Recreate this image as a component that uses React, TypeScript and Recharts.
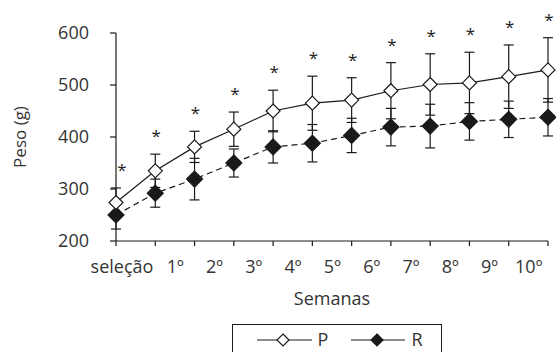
import { LineChart, Line, XAxis, YAxis, ErrorBar } from "recharts";

const weekLabels = ["seleção", "1º", "2º", "3º", "4º", "5º", "6º", "7º", "8º", "9º", "10º"];
const weekIndex = [0, 1, 2, 3, 4, 5, 6, 7, 8, 9, 10, 11];
const pesoP = [274, 335, 381, 415, 450, 465, 471, 489, 501, 504, 516, 529];
const errP = [28, 32, 30, 33, 40, 52, 43, 54, 59, 59, 61, 62];
const pesoR = [250, 292, 319, 350, 381, 388, 403, 419, 421, 430, 434, 438];
const errR = [27, 27, 40, 27, 31, 36, 33, 36, 42, 36, 35, 36];
const yTicks = [200, 300, 400, 500, 600];

const data = weekIndex.map((w, i) => ({
  semana: w,
  P: pesoP[i],
  pErr: errP[i],
  R: pesoR[i],
  rErr: errR[i],
}));

const W = 556;
const H = 352;
const MARGIN = { top: 33, right: 8, left: 0, bottom: 81 };
const PLOT_H = H - MARGIN.top - MARGIN.bottom - 30;
const PX_PER_G = PLOT_H / 400;
const INK = "#1a1a1a";
const TEXT = "#333";
const FONT = "'Open Sans', sans-serif";
const FS = 18;

function Diamond({ cx, cy, filled, r = 7 }: any) {
  if (cx == null || cy == null) return null;
  return (
    <polygon
      points={`${cx},${cy - r} ${cx + r},${cy} ${cx},${cy + r} ${cx - r},${cy}`}
      fill={filled ? INK : "#fff"}
      stroke={INK}
      strokeWidth={1.2}
    />
  );
}

function WeekTick({ x, y, payload }: any) {
  const label = weekLabels[payload.value];
  if (!label) return null;
  const dx = payload.value === 0 ? 6 : 20;
  return (
    <text x={x + dx} y={y} dy="0.71em" textAnchor="middle" fill={TEXT} fontSize={FS} fontFamily={FONT}>
      {label}
    </text>
  );
}

function Star(props: any) {
  const { x, y, index } = props;
  if (x == null || y == null) return null;
  const top = y - errP[index] * PX_PER_G - 22;
  return (
    <text key={`star-${index}`} x={x + (index === 0 ? 6 : 1)} y={top + 10} textAnchor="middle" fill="#222" fontSize={17} fontFamily={FONT}>
      *
    </text>
  );
}

function PesoLabel({ viewBox }: any) {
  const cy = viewBox.y + viewBox.height / 2;
  return (
    <text x={20} y={cy} transform={`rotate(-90 20 ${cy})`} dy="0.35em" textAnchor="middle" fill={TEXT} fontSize={FS - 1} fontFamily={FONT}>
      Peso (g)
    </text>
  );
}

export default function App() {
  return (
    <div style={{ position: "absolute", left: 0, top: 0, width: W, height: H, background: "#fff" }}>
      <LineChart width={W} height={H} data={data} margin={MARGIN}>
        <XAxis
          dataKey="semana"
          type="number"
          domain={[0, 11]}
          ticks={weekIndex}
          interval={0}
          height={30}
          tickSize={5}
          tickMargin={14}
          tick={<WeekTick />}
          axisLine={{ stroke: INK, strokeWidth: 1.2 }}
          tickLine={{ stroke: INK, strokeWidth: 1.2 }}
          label={{ value: "Semanas", position: "bottom", offset: 21, fill: TEXT, fontSize: FS, fontFamily: FONT }}
        />
        <YAxis
          width={116}
          domain={[200, 600]}
          ticks={yTicks}
          interval={0}
          tickSize={6}
          tickMargin={21}
          tick={{ fill: TEXT, fontSize: FS, fontFamily: FONT }}
          axisLine={{ stroke: INK, strokeWidth: 1.2 }}
          tickLine={{ stroke: INK, strokeWidth: 1.2 }}
          label={<PesoLabel />}
        />
        <Line
          dataKey="R"
          stroke={INK}
          strokeWidth={1.2}
          strokeDasharray="6 4"
          dot={(p: any) => <Diamond key={`r-${p.index}`} cx={p.cx} cy={p.cy} filled r={8} />}
          isAnimationActive={false}
        >
          <ErrorBar dataKey="rErr" direction="y" width={5} stroke={INK} strokeWidth={1.2} />
        </Line>
        <Line
          dataKey="P"
          stroke={INK}
          strokeWidth={1.2}
          dot={(p: any) => <Diamond key={`p-${p.index}`} cx={p.cx} cy={p.cy} r={7} />}
          label={Star}
          isAnimationActive={false}
        >
          <ErrorBar dataKey="pErr" direction="y" width={5} stroke={INK} strokeWidth={1.2} />
        </Line>
      </LineChart>
      <div
        style={{
          position: "absolute",
          left: 232,
          top: 324,
          width: 210,
          height: 40,
          border: `1px solid ${INK}`,
          boxSizing: "border-box",
        }}
      >
        <svg width={210} height={40} style={{ position: "absolute", left: -1, top: -1 }}>
          <line x1={25} x2={80} y1={16} y2={16} stroke={INK} strokeWidth={1.2} />
          <Diamond cx={51} cy={16} r={6} />
          <text x={91} y={16} dy="0.36em" textAnchor="middle" fill={TEXT} fontSize={18} fontFamily={FONT}>P</text>
          <line x1={119} x2={173} y1={16} y2={16} stroke={INK} strokeWidth={1.2} />
          <Diamond cx={145} cy={16} r={6} filled />
          <text x={185} y={16} dy="0.36em" textAnchor="middle" fill={TEXT} fontSize={18} fontFamily={FONT}>R</text>
        </svg>
      </div>
    </div>
  );
}
